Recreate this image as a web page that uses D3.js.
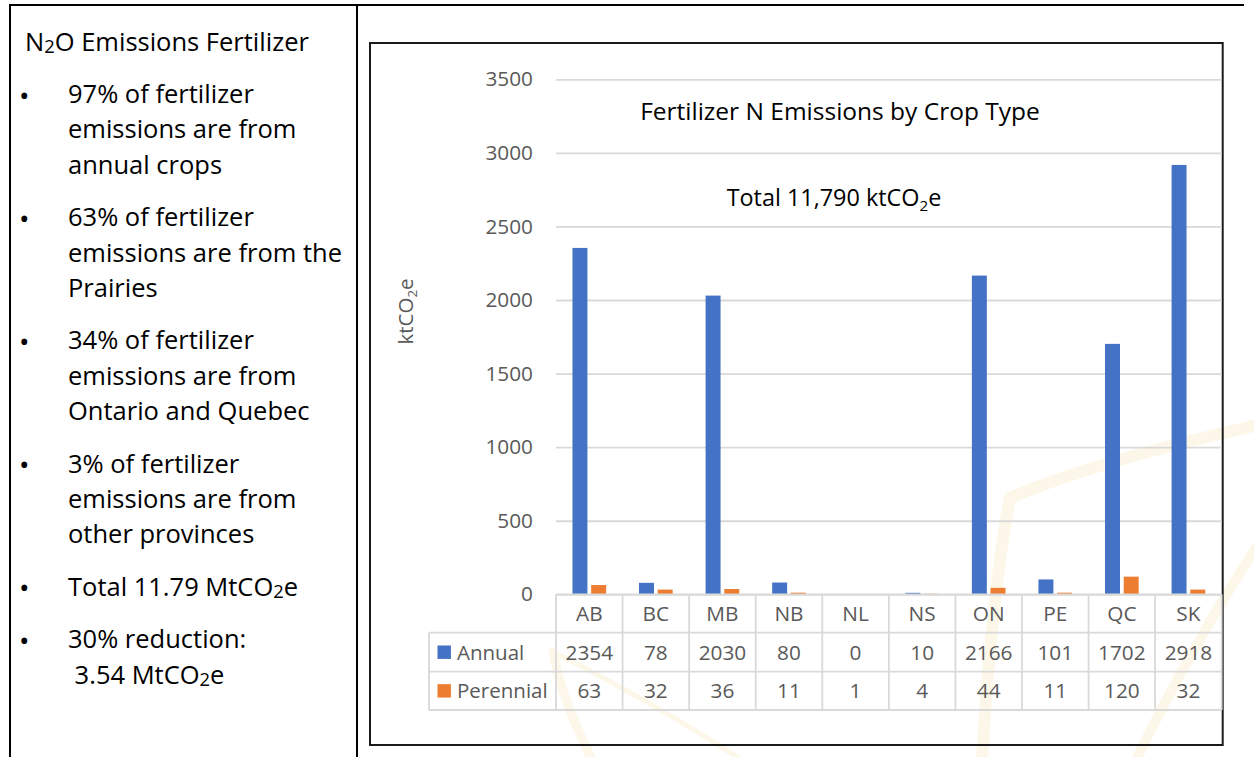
<!DOCTYPE html>
<html>
<head>
<meta charset="utf-8">
<script src="https://cdn.jsdelivr.net/npm/d3@7"></script>
<style>
  html, body { margin: 0; padding: 0; background: #fff; }
  svg { display: block; font-family: "Open Sans", "Noto Sans", sans-serif; }
</style>
</head>
<body>
<svg id="chart" width="1254" height="757"></svg>
<script>
// ---- data ----
const provinces = ["AB", "BC", "MB", "NB", "NL", "NS", "ON", "PE", "QC", "SK"];
const seriesNames = ["Annual", "Perennial"];
const annual = [2354, 78, 2030, 80, 0, 10, 2166, 101, 1702, 2918];
const perennial = [63, 32, 36, 11, 1, 4, 44, 11, 120, 32];
const yTicks = [0, 500, 1000, 1500, 2000, 2500, 3000, 3500];
const seriesColors = ["#4472c4", "#ed7d31"];

const chartTitle = "Fertilizer N Emissions by Crop Type";
const totalNote = "Total 11,790 ktCO_2e";
const yAxisLabel = "ktCO_2e";
const panelTitle = "N_2O Emissions Fertilizer";
const bulletNotes = [
  ["97% of fertilizer", "emissions are from", "annual crops"],
  ["63% of fertilizer", "emissions are from the", "Prairies"],
  ["34% of fertilizer", "emissions are from", "Ontario and Quebec"],
  ["3% of fertilizer", "emissions are from", "other provinces"],
  ["Total 11.79 MtCO_2e"],
  ["30% reduction:", " 3.54 MtCO_2e"]
];

const svg = d3.select("#chart");
const W = 1254, H = 757;

// writes a string into a text node, turning "_2" into a lowered small 2
function richText(sel, str, subScale, subShift) {
  const parts = str.split("_2");
  let backDy = null;
  parts.forEach((p, i) => {
    if (p.length) {
      const t = sel.append("tspan").text(p);
      if (backDy) t.attr("dy", backDy);
      backDy = null;
    }
    if (i < parts.length - 1) {
      sel.append("tspan")
        .attr("font-size", subScale + "em")
        .attr("dy", subShift + "em")
        .text("2");
      backDy = (-subShift * subScale) + "em";
    }
  });
}

// ---- faint background watermark ----
const wm = svg.append("g")
  .attr("fill", "none")
  .attr("stroke", "#fcf7e8")
  .attr("stroke-linecap", "round");
wm.append("path").attr("stroke-width", 9).attr("d", "M553,652 C560,690 575,725 592,760");
wm.append("path").attr("stroke-width", 5).attr("d", "M553,652 C610,680 680,720 742,760");
wm.append("path").attr("stroke-width", 12).attr("d", "M982,760 C988,660 996,570 1010,498 C1080,468 1170,445 1258,425");
wm.append("path").attr("stroke-width", 10).attr("d", "M1258,545 C1215,610 1170,690 1136,760");

// ---- page frame ----
const frame = svg.append("g").attr("stroke", "#000").attr("stroke-width", 2);
frame.append("line").attr("x1", 9).attr("y1", 5).attr("x2", 1244).attr("y2", 5);
frame.append("line").attr("x1", 10).attr("y1", 4).attr("x2", 10).attr("y2", H);
frame.append("line").attr("x1", 357).attr("y1", 4).attr("x2", 357).attr("y2", H);

// ---- left notes panel ----
const notes = svg.append("g").attr("fill", "#000").attr("font-size", 25.5);
richText(notes.append("text").attr("x", 25).attr("y", 51), panelTitle, 0.72, 0.12);

let baseline = 103;
bulletNotes.forEach(par => {
  notes.append("text").attr("x", 19).attr("y", baseline + 2.5)
    .attr("font-size", 28).text("\u2022");
  par.forEach((line, j) => {
    const t = notes.append("text")
      .attr("x", 68)
      .attr("y", baseline + j * 35.3)
      .attr("xml:space", "preserve");
    richText(t, line, 0.72, 0.12);
  });
  baseline += par.length * 35.3 + 17.3;
});

// ---- chart ----
svg.append("rect")
  .attr("x", 370).attr("y", 43)
  .attr("width", 852.7).attr("height", 702)
  .attr("fill", "none").attr("stroke", "#1a1a1a").attr("stroke-width", 2);

const plot = { left: 556, right: 1221.7, top: 79.3, bottom: 594.3 };
const x0 = d3.scaleBand().domain(provinces).range([plot.left, plot.right]);
const x1 = d3.scaleBand().domain(seriesNames)
  .range([0, x0.bandwidth()]).paddingInner(0.2).paddingOuter(0.88);
const y = d3.scaleLinear().domain([0, 3500]).range([plot.bottom, plot.top]);
const color = d3.scaleOrdinal().domain(seriesNames).range(seriesColors);

const yAxis = svg.append("g")
  .attr("transform", `translate(${plot.left},0)`)
  .call(d3.axisLeft(y).tickValues(yTicks).tickFormat(d3.format("d"))
    .tickSize(-(plot.right - plot.left)).tickPadding(23));
yAxis.select(".domain").remove();
yAxis.selectAll(".tick line").attr("stroke", "#d9d9d9").attr("stroke-width", 1.8);
yAxis.selectAll(".tick text")
  .attr("fill", "#595959").attr("font-size", 20.8)
  .attr("font-family", "Open Sans, sans-serif");

const yl = svg.append("text")
  .attr("transform", "translate(413,311.5) rotate(-90)")
  .attr("text-anchor", "middle")
  .attr("fill", "#595959").attr("font-size", 20.5);
richText(yl, yAxisLabel, 0.65, 0.3);

svg.append("text")
  .attr("x", 840).attr("y", 119.5)
  .attr("text-anchor", "middle").attr("fill", "#000").attr("font-size", 24.5)
  .text(chartTitle);
const tn = svg.append("text")
  .attr("x", 834).attr("y", 206)
  .attr("text-anchor", "middle").attr("fill", "#000").attr("font-size", 23.4);
richText(tn, totalNote, 0.65, 0.3);

// bars
const rows = provinces.map((p, i) => ({ p, vals: [annual[i], perennial[i]] }));
const groups = svg.append("g").selectAll("g").data(rows).join("g")
  .attr("transform", d => `translate(${x0(d.p)},0)`);
groups.selectAll("rect")
  .data(d => d.vals.map((v, k) => ({ s: seriesNames[k], v })))
  .join("rect")
  .attr("x", d => x1(d.s))
  .attr("width", x1.bandwidth())
  .attr("y", d => y(d.v))
  .attr("height", d => y(0) - y(d.v))
  .attr("fill", d => color(d.s));

// data table under the axis
const rowTop = [plot.bottom, 632.7, 671.7, 710];
const legendLeft = 429;
const grid = svg.append("g").attr("stroke", "#d9d9d9").attr("stroke-width", 1.8);
[rowTop[1], rowTop[2], rowTop[3]].forEach(yy =>
  grid.append("line").attr("x1", legendLeft).attr("x2", plot.right).attr("y1", yy).attr("y2", yy));
grid.append("line").attr("x1", plot.left).attr("x2", plot.right).attr("y1", rowTop[0]).attr("y2", rowTop[0]);
provinces.concat([null]).forEach(p => {
  const xx = p ? x0(p) : plot.right;
  grid.append("line").attr("x1", xx).attr("x2", xx).attr("y1", rowTop[0]).attr("y2", rowTop[3]);
});
grid.append("line").attr("x1", legendLeft).attr("x2", legendLeft).attr("y1", rowTop[1]).attr("y2", rowTop[3]);

const tbl = svg.append("g").attr("fill", "#595959").attr("font-size", 20.8).attr("text-anchor", "middle");
tbl.selectAll("text.cat").data(provinces).join("text").attr("class", "cat")
  .attr("x", d => x0(d) + x0.bandwidth() / 2)
  .attr("y", (rowTop[0] + rowTop[1]) / 2).attr("dy", "0.36em")
  .text(d => d);
[annual, perennial].forEach((vals, r) => {
  tbl.selectAll("text.v" + r).data(vals).join("text").attr("class", "v" + r)
    .attr("x", (d, i) => x0(provinces[i]) + x0.bandwidth() / 2)
    .attr("y", (rowTop[r + 1] + rowTop[r + 2]) / 2).attr("dy", "0.36em")
    .text(d => d);
});

const leg = svg.append("g");
seriesNames.forEach((s, r) => {
  const cy = (rowTop[r + 1] + rowTop[r + 2]) / 2;
  leg.append("rect").attr("x", 437.5).attr("y", cy - 6.7).attr("width", 13.4).attr("height", 13.4)
    .attr("fill", color(s));
  leg.append("text").attr("x", 457).attr("y", cy).attr("dy", "0.36em")
    .attr("fill", "#595959").attr("font-size", 20.5).text(s);
});
</script>
</body>
</html>
